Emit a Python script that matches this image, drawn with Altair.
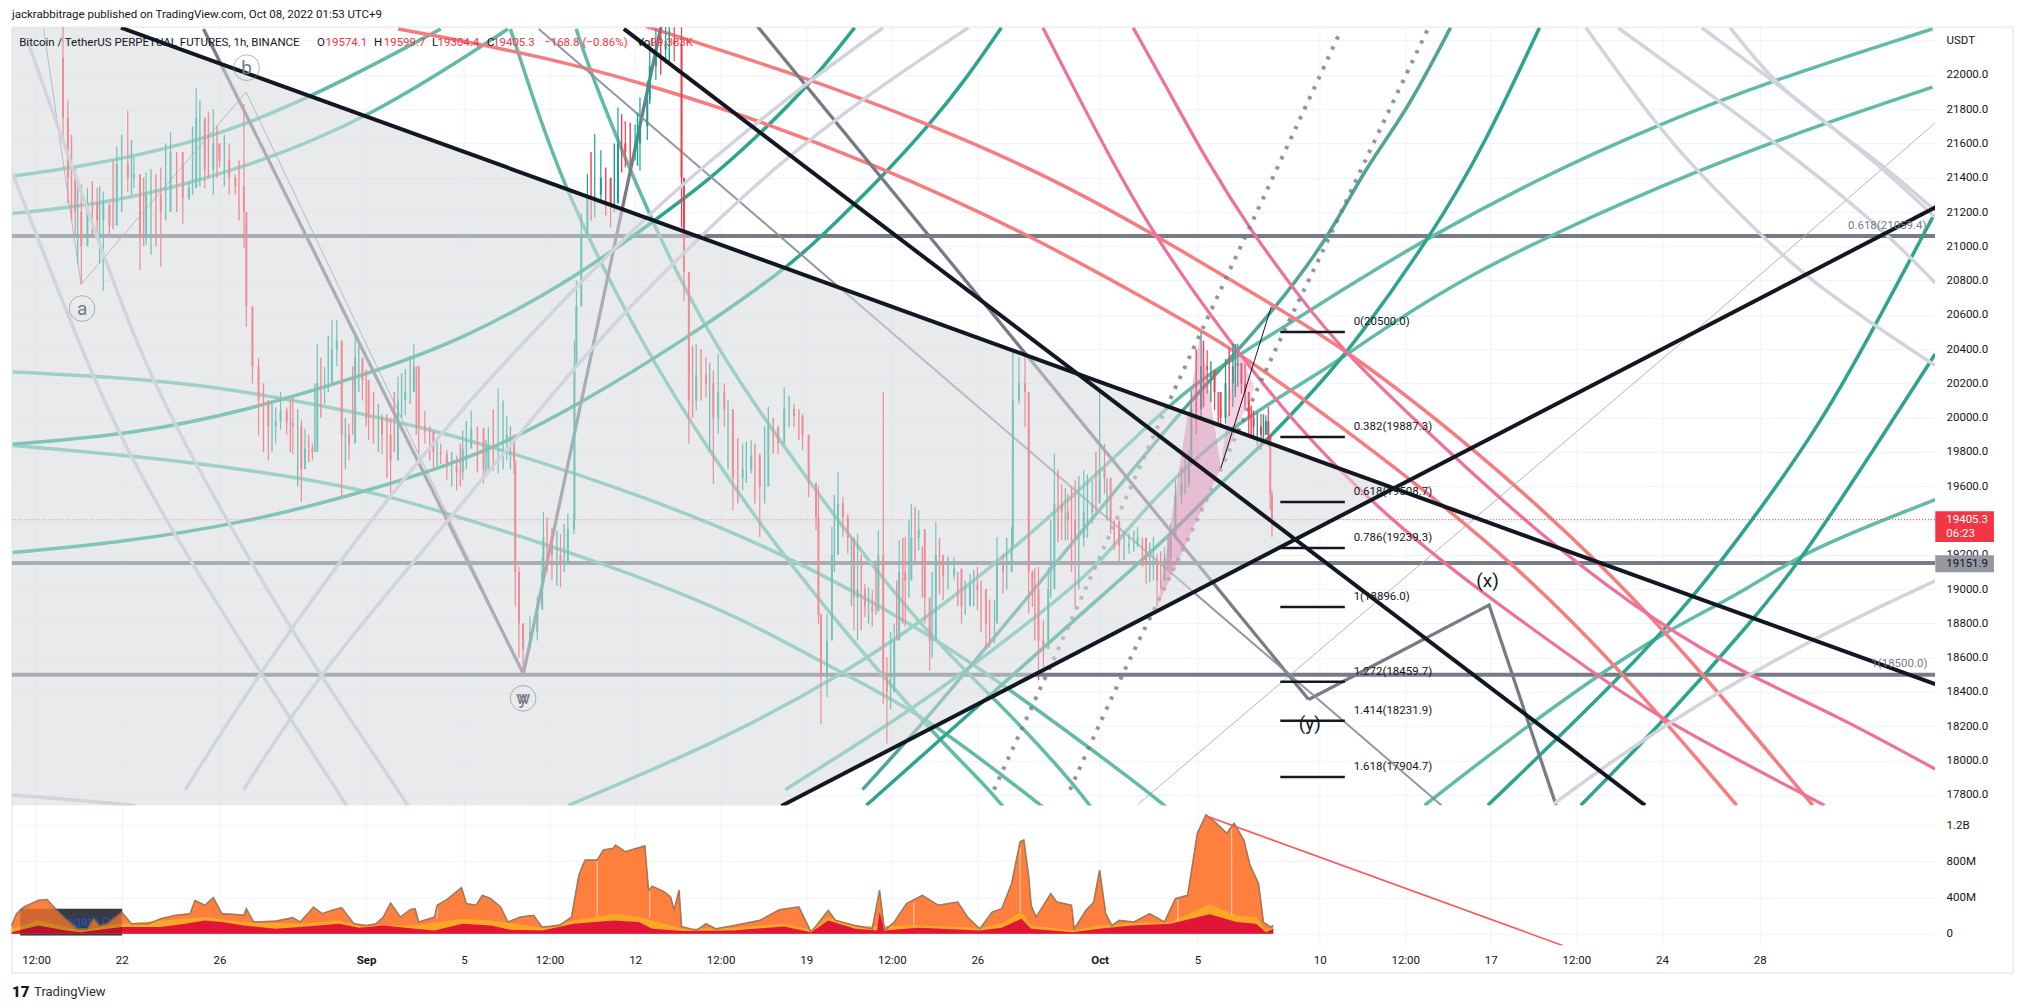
import altair as alt
import pandas as pd

# ---------- scales ----------
DMIN, DMAX = 16.515, 95.17
PMIN, PMAX = 17738, 22278
VMIN, VMAX = -129, 1412

time_ticks = [17.5, 21, 25, 31, 35, 38.5, 42, 45.5, 49, 52.5, 56, 61, 65, 70, 73.5, 77, 80.5, 84, 88]
time_labels = ["12:00", "22", "26", "Sep", "5", "12:00", "12", "12:00", "19", "12:00", "26", "Oct", "5", "10", "12:00", "17", "12:00", "24", "28"]
price_ticks = list(range(17800, 22400, 200))
vol_ticks = [0, 400, 800, 1200]

# ---------- candles (day since Aug 1, high, low, close) ----------
c_day = [18.6,18.8,19.1,19.35,19.6,20,20.25,20.5,20.8,21.25,21.5,21.75,22,22.6,23,23.5,23.75,24.05,24.4,24.75,25,25.4,25.65,26,26.1,26.35,26.6,27,27.3,27.5,27.75,28,28.35,28.5,28.8,29,29.3,29.6,29.8,30,30.3,30.55,30.85,31.1,31.65,32,32.3,32.6,32.95,33.15,33.4,33.75,34.05,34.3,34.7,34.95,35.3,35.8,36,36.4,36.75,37.05,37.1,37.25,37.42,37.7,38,38.2,38.25,38.6,38.95,39.25,39.5,39.52,39.6,39.8,40.05,40.35,40.6,41,41.3,41.6,42,42.2,42.5,42.6,42.85,43.25,43.6,43.9,44,44.2,44.5,44.9,45.2,45.4,45.65,46,46.4,46.75,47.1,47.45,47.85,48.1,48.5,48.85,49.1,49.4,49.5,49.6,49.85,50.05,50.3,50.5,50.7,50.95,51.1,51.4,51.7,51.95,52.15,52.3,52.6,52.8,53.05,53.3,53.6,53.85,54.05,54.3,54.6,55.05,55.35,55.7,56,56.35,56.7,56.8,57.05,57.4,57.45,57.7,57.95,58.1,58.25,58.5,58.7,58.9,59.15,59.45,59.7,60,60.35,60.7,61,61.2,61.45,61.8,62.2,62.55,62.9,63.2,63.35,63.65,63.9,64.1,64.35,64.65,64.75,65.15,65.4,65.7,65.95,66.15,66.45,66.65,66.8,66.95,67.1,67.3,67.6,67.8,67.9,67.98,68.05]
c_high = [22280,21850,21460,21360,21340,21340,21320,21230,21580,21790,21520,21360,21430,21460,21665,21460,21375,21920,21750,21800,21600,21600,21420,21830,21150,20620,20350,20100,20060,20150,20060,20130,19985,19935,19850,20430,20295,20570,20570,20440,19965,20490,20335,20200,20020,20000,20240,20285,20430,20100,20040,19880,19850,19810,19780,19925,20040,19790,19945,20170,20010,19850,19675,19130,18800,18840,18955,19185,19450,19360,19320,19440,19440,20450,20800,21190,21420,21655,21560,21360,21810,21730,21710,21870,21965,22180,22270,22280,22280,22280,21110,20393,20430,20354,20276,20373,20200,19926,19850,19868,19790,20062,19907,20178,20082,20023,19732,19518,19600,18857,18857,19362,19683,19537,19440,19148,19323,19032,18993,19343,20150,18604,18800,19285,19304,19498,19460,19051,18857,19391,19187,19187,19012,19090,19129,18935,18935,19304,19207,19362,20393,20354,20373,19945,19110,19129,18818,19129,19790,19615,19557,19635,19693,19635,20150,19848,19460,19343,19324,19362,19246,19304,19207,19246,19382,19635,19712,19810,20160,20500,20393,20276,20062,20344,20432,20432,20237,20315,20100,20043,20023,20014,20062,19693,19576]
c_low = [21600,21250,21070,20780,21070,21070,20740,21070,21300,21320,21340,20860,21010,20880,21300,21130,21270,21340,21340,21300,21460,21300,21300,20990,20530,20200,19897,19750,19850,19930,19900,19790,19510,19750,19750,19870,20080,20240,20300,19540,19750,20200,20100,19870,19790,19555,19985,20015,20160,19790,19850,19710,19730,19635,19576,19635,19830,19615,19710,19675,19750,19675,18900,18600,18507,18660,18700,18900,19185,19050,19010,19245,19320,19440,20390,20820,21110,21170,21270,21110,21400,21460,21500,21440,21620,21830,21970,22065,22080,21110,20680,19850,20043,20120,19615,19906,19945,19460,19576,19675,19304,19790,19790,19945,19945,19810,19537,19343,18800,18215,18371,18973,19246,19304,19207,18760,18700,18838,18780,18954,18330,18099,18604,18857,18780,19090,19226,18800,18526,19012,18935,19051,18800,18935,18877,18643,18682,19032,18973,19129,19673,20082,19945,18857,18896,18468,18546,18896,19265,19285,19285,18896,19246,19382,19518,19557,19324,19148,19207,19246,19032,19051,18896,19110,19110,19420,19498,19595,19810,19985,20140,20043,19946,19965,20062,20179,20140,20043,19887,19868,19810,19926,19830,19460,19304]
c_close = [21750,21400,21200,21000,21250,21150,21250,21120,21480,21400,21420,21050,21300,21200,21550,21280,21340,21750,21450,21600,21500,21400,21350,21200,20650,20300,20100,19950,19980,20040,19970,19950,19700,19820,19800,20200,20200,20400,20450,19900,19850,20350,20220,20000,19900,19750,20100,20150,20300,19950,19920,19800,19790,19720,19680,19820,19940,19700,19850,19850,19900,19750,19100,18800,18650,18750,18880,19100,19300,19200,19150,19350,19400,20300,20650,21050,21300,21300,21400,21250,21600,21550,21600,21700,21850,22050,22150,22200,22180,21400,20850,20100,20250,20200,20000,20150,20050,19650,19700,19780,19600,19950,19850,20050,20010,19900,19620,19420,18850,18500,18700,19200,19500,19420,19300,18950,19000,18900,18870,19200,18500,18400,18700,19100,19050,19300,19350,18950,18700,19200,19080,19120,18900,19020,19000,18800,18800,19150,19100,19250,20100,20200,20150,19100,19000,18700,18650,19000,19500,19450,19400,19300,19450,19500,19700,19650,19400,19250,19260,19300,19150,19150,19050,19180,19300,19550,19620,19750,20050,20300,20280,20150,20000,20200,20300,20320,20200,20150,20000,19950,19900,19980,19900,19550,19405.3]

# further thin hourly wicks between the bars above (day, high, low, side)
extra_day = [18.95,19.2,19.8,20.1,20.65,21,21.4,21.9,22.2,22.4,22.8,23.25,23.9,24.2,24.55,24.9,25.2,25.8,26.8,27.15,27.9,28.2,28.65,28.9,29.15,29.45,30.15,30.45,30.7,31,31.3,31.5,31.85,32.15,32.45,32.8,33.05,33.6,33.9,34.5,34.85,35.1,35.55,35.9,36.2,36.6,36.9,38.4,38.8,39.1,40.2,40.8,41.15,41.45,41.8,42.1,43.05,43.4,44.35,44.7,45.05,45.8,46.2,46.55,46.9,47.3,47.65,48.3,48.7,50.15,50.85,51.25,51.55,51.85,52.45,52.7,52.95,53.2,53.45,53.75,54.15,54.45,54.8,55.2,55.5,55.85,56.15,56.5,57.2,58.35,59,59.3,59.6,59.85,60.15,60.5,60.85,61.3,61.6,62,62.4,62.75,63.05,63.5,63.8,64.5,64.95,65.25,65.55,65.85,66.3,66.55,67.2,67.45,67.7]
extra_high = [21650,21400,21380,21350,21500,21650,21620,21400,21450,21420,21600,21550,21700,21850,21780,21700,21650,21500,20200,20080,20100,20050,19900,20200,20350,20480,20000,20300,20420,20280,20150,20080,20020,20150,20260,20360,20300,19950,19870,19800,19850,19980,19950,19870,20050,20100,19950,19420,19340,19380,21550,21460,21600,21770,21720,21780,22280,22280,20420,20400,20320,20100,19880,19860,19850,19950,20000,20130,20050,19550,19300,19200,19010,19150,18750,19050,19300,19400,19480,19250,19100,19300,19190,19100,19050,19110,19050,18940,19300,19120,19400,19700,19590,19600,19660,19670,19800,19650,19400,19340,19340,19300,19270,19220,19300,19760,20400,20450,20330,20150,20400,20430,20070,20030,20020]
extra_low = [21150,20900,21050,20900,21100,21200,21300,21000,20950,21000,21150,21200,21300,21350,21400,21400,21350,21150,19800,19800,19800,19600,19740,19800,20000,20150,19700,19900,20150,19950,19850,19800,19650,19800,20000,20080,19900,19750,19720,19600,19600,19700,19680,19660,19690,19700,19700,19100,19020,19100,21150,21180,21200,21430,21480,21470,22000,22070,20000,20100,19800,19700,19500,19620,19500,19500,19790,19945,19870,19100,18900,18760,18800,18850,18300,18700,18800,18950,19150,18950,18600,18970,19000,18900,18850,18900,18750,18660,19000,18700,18950,19275,19285,19100,19000,19300,19450,19400,19230,19170,19220,19130,19040,19000,19110,19550,19900,20060,20090,19960,20010,20120,19880,19840,19870]
extra_side = list("dududuudududuudduddudududuududdudduudduudududuuduudduddududduududududuudududduddududuuddudududuududuududduddudduduu")

# ---------- volume pane (day, millions) ----------
vol_day = [16.5,16.7,17,17.6,17.95,18.3,18.7,19.2,19.6,19.85,20.1,20.4,21,21.4,22.1,22.6,23.2,23.8,24,24.4,24.75,25.1,25.6,26,26.1,26.4,27.3,28,28.3,28.85,29.2,29.6,30,30.5,31,31.4,31.7,32,32.4,32.8,33,33.15,33.8,33.9,34.3,34.9,35.1,35.5,35.75,36.1,36.5,36.8,37.3,37.85,38.2,38.9,39.4,39.7,39.95,40.45,40.7,41.1,41.2,41.6,42.3,42.4,42.55,42.7,43.2,43.45,43.6,43.8,43.9,44.5,44.9,45.3,46.05,47.1,47.9,48.7,49.2,49.9,50.2,51,51.7,52,52.2,52.6,53.1,53.75,54.4,55.2,55.6,56.1,56.6,57,57.4,57.75,57.9,58.1,58.2,58.4,59,59.25,59.85,59.96,60.44,60.76,61,61.25,61.5,61.8,62.4,63.05,63.65,64.1,64.6,65,65.35,65.7,66.2,66.5,66.9,67.15,67.5,67.7,68,68.1]
vol_total = [92,222,296,370,377,277,167,55,55,167,90,111,240,111,111,167,204,222,370,315,400,222,215,204,277,130,140,178,130,296,222,259,289,111,92,111,185,340,185,266,277,130,185,315,377,510,333,315,425,388,296,130,185,204,74,92,185,647,814,814,925,943,980,906,962,970,481,525,463,407,266,481,81,37,111,55,92,148,266,296,18,259,148,92,55,481,37,130,333,425,315,351,185,55,240,277,555,1018,1036,629,315,185,444,351,315,55,259,351,703,222,92,148,130,222,130,388,425,1110,1313,1240,1110,1221,1036,758,555,130,74,92]
mid_day = [16.5,17.6,19.3,21,24.4,26,28.3,29.9,30.7,33,34.95,36.1,38.2,39.5,41.2,42.15,43.95,46,48.1,49.2,49.9,51,53.6,56.1,57,57.8,58.2,59.9,61,62.3,63.9,65.5,66.6,67.4,67.8,68.1]
mid_total = [55,148,37,111,185,130,111,148,92,92,166,148,67,148,222,185,55,67,111,44,185,81,92,67,111,240,92,37,92,118,130,325,203,185,37,81]
red_day = [16.5,17.6,18.7,19.3,21,22.6,23.6,24.4,25.1,26,27.3,28.3,29.9,30.7,31.7,33,33.8,34.95,36.1,36.9,38.2,39.5,41.1,42.15,42.7,43.95,46,48.1,49.2,49.9,51,51.9,52,52.2,53.6,56.1,57,57.8,58.2,59.9,61,62.3,63.9,65.5,66.6,67.4,67.8,68.1]
red_total = [18,92,37,18,74,74,111,148,130,92,55,74,111,67,92,55,37,111,92,44,37,111,148,130,55,30,37,81,18,148,55,37,240,37,67,37,67,166,55,18,55,92,111,215,130,111,18,55]
streak_day = [33.9,40.45,42.6,53.4,57.75,64.2,66.4]
streak_low = [166,190,180,92,240,130,203]
streak_high = [315,800,470,340,950,380,1150]
vol_line_day = [65.34,79.93]
vol_line_val = [1303,-128]

# ---------- drawn lines (day, price) ----------
BLACK = {
 "b1": ([20.97,95.18],[22275,18446]),
 "b2": ([47.98,95.28],[17735,21234]),
 "b3": ([41.54,83.31],[22268,17739]),
}
WAVE = {
 "w1": ([24.35,37.43],[22268,18506]),
 "w2": ([37.43,43.23],[18506,22395]),
 "w3": ([46.92,69.55],[22298,18356]),
 "w4": ([69.55,76.93,79.67],[18356,18907,17739]),
}
WAVE_THIN = {"t": ([17.81,19.34,26.09,37.43],[22268,20778,21899,18506])}
MID_GREY = {"g2": ([38.06,74.98],[22268,17739])}
THIN_GREY = {"tg": ([62.59,85.37,95.28],[17747,20507,21733])}
LIGHT = {
 "ga1": ([16.54,19.34,21.19,23.93,29.78,30.57],[21425,20395,19808,19123,17830,17657]),
 "ga2": ([17.18,18.81,21.56,23.93,27.78,32.31,33.05],[22185,21538,20410,19748,18777,17830,17657]),
 "r1": ([23.61,26.57,32.53,37.43,42.23,44.76,48.98,52.14],[17830,18506,19672,20447,21147,21463,21952,22275]),
 "r2": ([25.99,29.04,34.32,40.33,44.6,47.71,51.35,55.63],[17830,18506,19387,20447,21049,21463,21869,22275]),
 "rf1": ([80.89,83.63,85.42,88.16,90.17,93.65,95.18],[22275,21733,21440,21049,20786,20447,20304]),
 "rf2": ([82.2,86.37,88.53,91.12,93.49,95.18],[22275,21846,21613,21327,21034,20786]),
 "rf3": ([85.63,88.53,90.75,92.96,95.18],[22275,21967,21718,21463,21169]),
 "rf4": ([86.79,88.53,90.17,92.96,95.18],[22275,21967,21771,21485,21207]),
 "br": ([79.57,83.89,90.17,95.18],[17747,18198,18717,19048]),
 "bl": ([16.49,19.23,21.56],[17799,17769,17739]),
}
TEAL_MED = {
 "ta1": ([16.54,18.97,24.09,28.83,34.05],[21410,21455,21598,21869,22268]),
 "ta2": ([16.54,20.66,25.77,31.21,36.8],[21192,21252,21440,21748,22268]),
 "tf1": ([16.54,19.71,24.3,30.68,35.27,42.65,48.14,53.62,57.26,62.9,64.33],[20267,20244,20199,20033,19876,19530,19206,18777,18424,17830,17657]),
 "tf2": ([16.54,21.56,27.04,31.58,37.96,42.65,46.29,50.51,53.62,57.79,59.32],[19838,19778,19680,19567,19281,19048,18837,18506,18281,17830,17657]),
 "sa": ([36.9,37.59,39.06,42.18,45.02,47.93,53.62,56.52,57.47],[22268,21967,21342,20447,19808,19206,18236,17830,17657]),
 "sb": ([39.59,40.33,42.7,45.08,49.03,53.62,57.2,60.16,61],[22268,21952,21132,20447,19635,18777,18296,17830,17657]),
 "t1": ([39.28,42.65,46.29,50.51,53.78,57.26,60.9,63.06,64.85,67.6,70.87,74.4,79.15,83.73,88.48,95.07],[17739,17942,18176,18506,18815,19206,19672,19966,20199,20447,20741,21049,21410,21703,21967,22268]),
 "t2": ([48.14,53.78,58.26,60.9,63.06,66.23,70.18,71.87,75.51,79.52,85.37,90.65,95.07],[17830,18334,18822,19123,19514,19943,20274,20447,20786,21071,21440,21718,21929]),
 "t4": ([74.29,77.88,81.47,84.16,87.48,89.91,95.18],[17739,18138,18506,18755,18995,19229,19522]),
}
TEAL_DARK = {
 "ta3": ([16.54,21.56,26.09,30.68,34.9,39.8,42.76,44.97,47.13,49.19,50.98],[19845,19906,20041,20237,20447,20838,21147,21380,21658,21952,22275]),
 "ta4": ([16.54,20.66,26.09,31.21,36.16,39.8,43.97,48.24,49.56,52.09,54.1,55.57,56.98],[19214,19266,19387,19575,19808,20086,20447,20876,21049,21402,21718,21982,22275]),
 "l1": ([51.46,56.15,61.06,63.64,66.33,67.86,70.02,71.5,74.61,76.77,78.99],[17739,18334,18958,19281,19672,19868,20199,20447,21071,21598,22275]),
 "d1": ([76.88,82.47,85.32,87.74,90.38,92.39,95.07],[17739,18506,18958,19409,19943,20447,21169]),
 "d2": ([80.68,84.16,87.74,89.64,92.33,95.18],[17739,18243,18822,19161,19740,20372]),
}
TEAL_GREY = {"l2": ([51.3,53.99,57.74,61.43,64.59,67.07,70.18,71.87,73.5,75.35],[17830,18251,18898,19537,20086,20447,20996,21463,21771,22275])}
CORAL = {
 "c1": ([42.44,48.61,53.94,58.68,63.22,67.81,71.13,76.19,81.47,85.79,90.17],[22283,22004,21718,21425,21072,20680,20395,19838,19161,18491,17739]),
 "c2": ([32.31,37.06,40.17,42.23,45.87,51.72,58.1,63.22,66.44,71.13,73.56,77.88,82.37,87.06],[22268,22140,22034,21952,21794,21485,21072,20665,20410,19921,19657,19161,18522,17739]),
}
PINK = {
 "p1": ([58.68,59.79,61.43,63.06,64.7,66.33,68.81,72.34,76.46,81.05,83.89,90.65],[22275,21967,21515,21109,20763,20447,19988,19469,18995,18529,18243,17739]),
 "p2": ([62.37,63.59,65.43,67.28,69.07,71.03,75.45,79.3,83.89,87.48,91.12,95.18],[22275,21967,21485,21072,20725,20372,19778,19281,18792,18499,18266,17950]),
}
DOTTED = {
 "d1": ([56.68,60.9,63.06,65.12,67.6,70.87],[17830,19146,19853,20492,21252,22260]),
 "d2": ([59.79,61.8,63.96,66.01,68.33,70.02,71.66,74.45],[17830,18469,19093,19710,20447,20936,21440,22275]),
}
THIN_BLACK = {"k": ([65.96,68.02],[19706,20647])}

levels = [21059.4, 19151.9, 18500.0]
last_price = 19405.3

tri_day = [16.515,20.97,47.98,73.03]
tri_top = [22278,22275,20883,19590]
tri_bot = [17738,17738,17735,19590]
pink_a = ([63.38,65.12,65.96],[18905,20492,19710],[18905,19447,19710])
pink_b = ([65.96,66.59,67.33],[19710,20440,20176],[19710,19928,20176])

fib_price = [20500,19887.3,19508.7,19239.3,18896,18459.7,18231.9,17904.7]
fib_text = ["0(20500.0)","0.382(19887.3)","0.618(19508.7)","0.786(19239.3)","1(18896.0)","1.272(18459.7)","1.414(18231.9)","1.618(17904.7)"]

FONT = "Roboto"
DARK = "#131722"
GREY = "#787b86"
RED = "#f23645"

label_expr = "".join(f"datum.value=={t}?'{l}':" for t, l in zip(time_ticks, time_labels)) + "''"
xs = alt.Scale(domain=[DMIN, DMAX], nice=False, zero=False)
ys = alt.Scale(domain=[PMIN, PMAX], nice=False, zero=False)
vs = alt.Scale(domain=[VMIN, VMAX], nice=False, zero=False)
GRID = "#f0f3fa"
x_top_axis = alt.Axis(values=time_ticks, labels=False, ticks=False, domain=False, title=None, grid=True, gridColor=GRID)
y_top_axis = alt.Axis(values=price_ticks, orient="right", ticks=False, domain=False, title=None, grid=True, gridColor=GRID,
                      labelExpr="datum.value==22200?'USDT':format(datum.value,'.1f')", labelFont=FONT, labelFontSize=11.5,
                      labelColor=DARK, labelPadding=11)
x_bot_axis = alt.Axis(values=time_ticks, labelExpr=label_expr, ticks=False, domain=False, title=None, grid=True, gridColor=GRID,
                      labelFont=FONT, labelFontSize=11.5, labelColor=DARK, labelPadding=9, labelAngle=0, labelOverlap=False,
                      labelFontWeight=alt.condition("datum.value==31||datum.value==61", alt.value(700), alt.value(400)))
y_bot_axis = alt.Axis(values=vol_ticks, orient="right", ticks=False, domain=False, title=None, grid=True, gridColor=GRID,
                      labelExpr="datum.value==1200?'1.2B':datum.value==0?'0':datum.value+'M'", labelFont=FONT, labelFontSize=11.5,
                      labelColor=DARK, labelPadding=11)
X = alt.X("d:Q", scale=xs, axis=x_top_axis)
Y = alt.Y("p:Q", scale=ys, axis=y_top_axis)
XV = alt.X("d:Q", scale=xs, axis=x_bot_axis)
YV = alt.Y("v:Q", scale=vs, axis=y_bot_axis, stack=None)


def lines(group, color, width, opacity=1.0, dash=None, interp="basis"):
    rows = [{"id": k, "i": i, "d": a, "p": b} for k, (ds, ps) in group.items() for i, (a, b) in enumerate(zip(ds, ps))]
    kw = {"clip": True, "interpolate": interp, "color": color, "strokeWidth": width, "opacity": opacity}
    if dash:
        kw["strokeDash"] = dash
    return alt.Chart(pd.DataFrame(rows)).mark_line(**kw).encode(x=X, y=Y, detail="id:N", order="i:Q")


def text(rows, color=DARK, size=11.5, align="left", weight=400, clip=False, opacity=1.0):
    return alt.Chart(pd.DataFrame(rows, columns=["d", "p", "t"])).mark_text(
        font=FONT, fontSize=size, color=color, align=align, baseline="middle", fontWeight=weight, clip=clip, opacity=opacity
    ).encode(x=X, y=Y, text="t:N")


def rect(d1, d2, p1, p2, fill, opacity=1.0, clip=False, stroke=None, width=None):
    kw = {"fill": fill, "opacity": opacity, "clip": clip}
    if stroke:
        kw.update(stroke=stroke, strokeWidth=width)
    return alt.Chart(pd.DataFrame({"d": [d1], "d2": [d2], "p": [p1], "p2": [p2]})).mark_rect(**kw).encode(
        x=X, x2="d2:Q", y=Y, y2="p2:Q")


tri = pd.DataFrame({"d": tri_day, "p": tri_top, "p2": tri_bot})
tri_base = alt.Chart(tri).mark_area(color="#787b86", opacity=0.16, clip=True).encode(x=X, y=Y, y2="p2:Q")
tri_over = alt.Chart(tri).mark_area(color="#e9eaee", opacity=0.45, clip=True).encode(x=X, y=Y, y2="p2:Q")

hl = pd.DataFrame({"p": levels})
hlines = alt.Chart(hl).mark_rule(color=GREY, strokeWidth=4, clip=True).encode(y=Y)
price_line = alt.Chart(pd.DataFrame({"p": [last_price]})).mark_rule(color=RED, strokeWidth=1, strokeDash=[1, 2], clip=True).encode(y=Y)

cd = pd.DataFrame({"d": c_day, "hi": c_high, "lo": c_low, "close": c_close})
cd["open"] = cd["close"].shift(1).fillna(22100)
cd["up"] = (cd["close"] >= cd["open"]).map({True: "up", False: "dn"})
ex = pd.DataFrame({"d": extra_day, "hi": extra_high, "lo": extra_low, "up": [("up" if s == "u" else "dn") for s in extra_side[:len(extra_day)]]})
col = alt.Color("up:N", scale=alt.Scale(domain=["up", "dn"], range=["#1ba08f", "#ef4050"]), legend=None)
wick = alt.Chart(cd).mark_rule(strokeWidth=1.2, clip=True).encode(x=X, y=alt.Y("hi:Q", scale=ys, axis=y_top_axis), y2="lo:Q", color=col)
wick2 = alt.Chart(ex).mark_rule(strokeWidth=1.4, clip=True).encode(x=X, y=alt.Y("hi:Q", scale=ys, axis=y_top_axis), y2="lo:Q", color=col)
body = alt.Chart(cd).mark_rule(strokeWidth=2, clip=True).encode(x=X, y=alt.Y("open:Q", scale=ys, axis=y_top_axis), y2="close:Q", color=col)


def tri_area(t, color, opacity):
    return alt.Chart(pd.DataFrame({"d": t[0], "p": t[1], "p2": t[2]})).mark_area(color=color, opacity=opacity).encode(x=X, y=Y, y2="p2:Q")


fib_seg = alt.Chart(pd.DataFrame({"p": fib_price, "d": [68.39] * 8, "d2": [71.03] * 8})).mark_rule(color=DARK, strokeWidth=2.5).encode(x=X, x2="d2:Q", y=Y)
fib_lab = text([(71.39, p + 58, t) for p, t in zip(fib_price, fib_text)])

circles = alt.Chart(pd.DataFrame({"d": [19.38, 26.11, 37.42], "p": [20637, 22042, 18363]})).mark_point(
    size=660, color=GREY, opacity=0.55, filled=False, strokeWidth=1).encode(x=X, y=Y)

top = alt.layer(
    rect(DMIN, 98.36, PMAX, 16761, "transparent", stroke="#eef0f5", width=2),
    tri_base,
    hlines,
    lines(THIN_GREY, "#b2b5be", 1, interp="linear"),
    lines(TEAL_MED, "#62bba8", 3.5),
    lines(TEAL_DARK, "#2da48f", 3.5),
    lines(TEAL_GREY, "#4fa596", 3.5),
    lines(CORAL, "#f77c80", 3.5),
    lines(PINK, "#f0709a", 3.2),
    lines(DOTTED, GREY, 4, opacity=0.8, dash=[3.5, 7.5]),
    lines(WAVE, GREY, 3.3, interp="linear"),
    lines(WAVE_THIN, GREY, 1, opacity=0.8, interp="linear"),
    lines(MID_GREY, "#8a8d97", 2, opacity=0.9, interp="linear"),
    price_line,
    wick2,
    wick,
    body,
    tri_over,
    lines(LIGHT, "#d1d4dc", 3.5),
    tri_area(pink_a, "#e27fab", 0.42),
    tri_area(pink_b, "#e27fab", 0.35),
    lines(THIN_BLACK, DARK, 1, interp="linear"),
    lines(BLACK, DARK, 4, interp="linear"),
    fib_seg,
    fib_lab,
    text([(94.82, 21117, "0.618(21059.4)"), (94.86, 18562, "1(18500.0)")], color=GREY, align="right"),
    circles,
    text([(19.38, 20637, "a"), (26.11, 22042, "b"), (37.42, 18363, "w"), (37.42, 18363, "y")], color=GREY, size=19, align="center"),
    text([(76.87, 19046, "(x)"), (69.6, 18211, "(y)")], color=DARK, size=19, align="center"),
    text([(16.515, 22350, "jackrabbitrage published on TradingView.com, Oct 08, 2022 01:53 UTC+9")], size=11.5),
    text([(16.81, 22188, "Bitcoin / TetherUS PERPETUAL FUTURES, 1h, BINANCE"), (28.99, 22188, "O"), (31.32, 22188, "H"),
          (33.69, 22188, "L"), (35.94, 22188, "C"), (42.07, 22188, "Vol")]),
    text([(29.34, 22188, "19574.1"), (31.72, 22188, "19599.7"), (33.92, 22188, "19304.4"), (36.19, 22188, "19405.3"),
          (38.28, 22188, "\u2212168.8 (\u22120.86%)"), (42.63, 22188, "99.383K")], color=RED),
    rect(95.18, 97.58, 19454, 19275, RED),
    text([(95.63, 19403, "19405.3"), (95.63, 19319, "06:23")], color="#ffffff"),
    rect(95.18, 97.58, 19197, 19098, "#9598a1"),
    text([(95.63, 19145, "19151.9")], color=DARK),
    text([(16.52, 16650, "17")], size=15, weight=900),
    text([(17.42, 16650, "TradingView")], size=13, color="#2a2e39"),
).properties(width=1923.9, height=778.6)

vol = pd.DataFrame({"d": vol_day, "v": vol_total})
mid = pd.DataFrame({"d": mid_day, "v": mid_total})
redv = pd.DataFrame({"d": red_day, "v": red_total})
streak = pd.DataFrame({"d": streak_day, "v": streak_high, "v2": streak_low})
line_v = pd.DataFrame({"d": vol_line_day, "v": vol_line_val})
box = pd.DataFrame({"d": [16.85], "d2": [21.02], "v": [276], "v2": [-19]})

bottom = alt.layer(
    alt.Chart(box).mark_rect(fill="#3a3f4d", opacity=0.95).encode(x=XV, x2="d2:Q", y=YV, y2="v2:Q"),
    alt.Chart(pd.DataFrame({"d": [19.18], "v": [125], "t": ["Aggregate OI"]})).mark_text(
        font=FONT, fontSize=13, color="#2962ff", align="center").encode(x=XV, y=YV, text="t:N"),
    alt.Chart(vol).mark_area(color="#ff7f3f").encode(x=XV, y=YV),
    alt.Chart(mid).mark_area(color="#f9a825").encode(x=XV, y=YV),
    alt.Chart(redv).mark_area(color="#e2143a").encode(x=XV, y=YV),
    alt.Chart(streak).mark_rule(color="#ffd2b8", strokeWidth=1).encode(x=XV, y=YV, y2="v2:Q"),
    alt.Chart(vol).mark_line(color="#26a69a", strokeWidth=1.6, opacity=0.8).encode(x=XV, y=YV),
    alt.Chart(vol).mark_line(color="#f0572a", strokeWidth=1).encode(x=XV, y=YV),
    alt.Chart(box).mark_rect(fill="#000000", opacity=0.18).encode(x=XV, x2="d2:Q", y=YV, y2="v2:Q"),
    alt.Chart(line_v).mark_line(color="#ff5252", strokeWidth=1.5, clip=True).encode(x=XV, y=YV),
).properties(width=1923.9, height=139.7)

chart = alt.vconcat(top, bottom, spacing=0, bounds="flush").properties(
    padding={"left": 0, "top": 0, "right": 0, "bottom": 0}, background="white"
).configure_view(stroke=None)

chart.save("out.html", embed_options={"renderer": "svg", "actions": False})
